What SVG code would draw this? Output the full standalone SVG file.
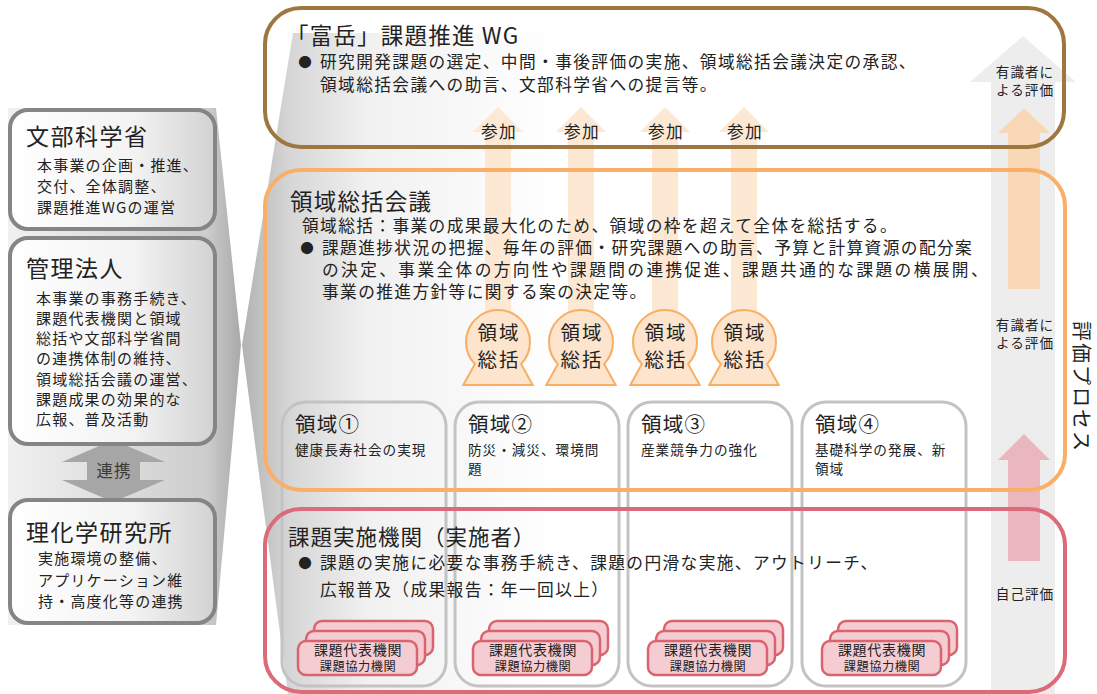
<svg xmlns="http://www.w3.org/2000/svg" width="1097" height="694" viewBox="0 0 1097 694">
<defs>
<linearGradient id="gL" gradientUnits="userSpaceOnUse" x1="8" y1="0" x2="241" y2="0">
<stop offset="0" stop-color="#f0f0f0"/><stop offset="0.85" stop-color="#cdcdcd"/><stop offset="1" stop-color="#a9a9a9"/>
</linearGradient>
<linearGradient id="gR" gradientUnits="userSpaceOnUse" x1="242" y1="0" x2="560" y2="0">
<stop offset="0" stop-color="#b2b2b2"/><stop offset="0.15" stop-color="#d6d6d6"/><stop offset="0.4" stop-color="#f1f1f1"/><stop offset="1" stop-color="#ffffff"/>
</linearGradient>
<linearGradient id="gBox" x1="0" y1="0" x2="1" y2="0">
<stop offset="0" stop-color="#ffffff"/><stop offset="0.6" stop-color="#f3f3f3"/><stop offset="1" stop-color="#d2d2d2"/>
</linearGradient>
<style>
.t{font-family:"Noto Sans CJK JP","Noto Sans",sans-serif;fill:#222}
.h1{font-size:22.5px;letter-spacing:1.2px}
.h2{font-size:21.5px;letter-spacing:1px}
.lt{font-size:23px;letter-spacing:1.5px}
.b{font-size:16.7px;letter-spacing:1.4px}
.lb{font-size:15px;letter-spacing:1.2px}
.rt{font-size:20.5px;letter-spacing:1.2px}
.rs{font-size:13.6px;letter-spacing:1px}
.ic{font-size:19.5px;letter-spacing:2px;text-anchor:middle}
.sk1{font-size:14px;letter-spacing:0.7px;text-anchor:middle}
.sk2{font-size:12.2px;letter-spacing:0.6px;text-anchor:middle}
.ev{font-size:13.6px;letter-spacing:1px;text-anchor:middle}
.bul{font-size:13.5px;text-anchor:middle}
.lbox{fill:url(#gBox);stroke:#858585;stroke-width:4}
.rbox{fill:none;stroke:#c3c3c3;stroke-width:3}
.sk{fill:#f4ccd2;stroke:#d9646f;stroke-width:2.5}
.fig{fill:#fce4cd;stroke:#f8ae64;stroke-width:4}
.fign{fill:#fce4cd;stroke:none}
.part{fill:#fde8d4}
</style>
</defs>

<g id="backdrop">
<polygon points="8,108 216,108 241,345 216,625 8,625" fill="url(#gL)"/>
<polygon points="293,33 1062,33 1062,694 288,694 242,345" fill="url(#gR)"/>
</g>

<g id="connectors">
<polygon points="991,694 991,82 970,82 1023,36 1076,82 1055,82 1055,694" fill="#ededed"/>
<polygon points="1008,289 1008,133 998,133 1024,108 1050,133 1040,133 1040,289" fill="#f8d8b6"/>
<polygon points="1008,561 1008,460 998,460 1024,434 1050,460 1040,460 1040,561" fill="#ebb7be"/>
<polygon class="part" points="485,330 485,132 473,132 498,107 523,132 511,132 511,330"/>
<polygon class="part" points="568,330 568,132 556,132 581,107 606,132 594,132 594,330"/>
<polygon class="part" points="652,330 652,132 640,132 665,107 690,132 678,132 678,330"/>
<polygon class="part" points="731,330 731,132 719,132 744,107 769,132 757,132 757,330"/>
<polygon points="113,440 165,462 140,462 140,480 165,480 113,502 62,480 87,480 87,462 62,462" fill="#a6a6a6"/>
</g>

<g id="ryoiki1"><rect class="rbox" x="282" y="402" width="164" height="284" rx="24"/>
<text class="t rt" x="295" y="432">領域①</text>
<text class="t rs" x="295" y="455">健康長寿社会の実現</text></g>
<g id="ryoiki2"><rect class="rbox" x="455" y="402" width="164" height="284" rx="24"/>
<text class="t rt" x="468" y="432">領域②</text>
<text class="t rs" x="468" y="455">防災・減災、環境問</text>
<text class="t rs" x="468" y="474">題</text></g>
<g id="ryoiki3"><rect class="rbox" x="628" y="402" width="164" height="284" rx="24"/>
<text class="t rt" x="641" y="432">領域③</text>
<text class="t rs" x="641" y="455">産業競争力の強化</text></g>
<g id="ryoiki4"><rect class="rbox" x="802" y="402" width="164" height="284" rx="24"/>
<text class="t rt" x="815" y="432">領域④</text>
<text class="t rs" x="815" y="455">基礎科学の発展、新</text>
<text class="t rs" x="815" y="474">領域</text></g>

<g id="wg">
<rect x="265" y="8" width="799" height="139" rx="36" fill="none" stroke="#9e7740" stroke-width="4"/>
<text class="t h1" x="286" y="44">「富岳」課題推進 WG</text>
<text class="t bul" x="305" y="67">●</text>
<text class="t b" x="320" y="68">研究開発課題の選定、中間・事後評価の実施、領域総括会議決定の承認、</text>
<text class="t b" x="320" y="91">領域総括会議への助言、文部科学省への提言等。</text>
<text class="t b" x="499" y="138" text-anchor="middle">参加</text>
<text class="t b" x="582" y="138" text-anchor="middle">参加</text>
<text class="t b" x="666" y="138" text-anchor="middle">参加</text>
<text class="t b" x="745" y="138" text-anchor="middle">参加</text>
</g>

<g id="kaigi">
<rect x="265" y="170" width="800" height="320" rx="36" fill="none" stroke="#f9af68" stroke-width="4"/>
<text class="t h1" x="290" y="210">領域総括会議</text>
<text class="t b" x="302" y="232">領域総括：事業の成果最大化のため、領域の枠を超えて全体を総括する。</text>
<text class="t bul" x="307" y="253">●</text>
<text class="t b" x="322" y="254">課題進捗状況の把握、毎年の評価・研究課題への助言、予算と計算資源の配分案</text>
<text class="t b" x="322" y="276" textLength="667">の決定、事業全体の方向性や課題間の連携促進、課題共通的な課題の横展開、</text>
<text class="t b" x="322" y="298">事業の推進方針等に関する案の決定等。</text>
</g>

<g id="jisshi">
<rect x="265" y="509" width="800" height="183" rx="36" fill="none" stroke="#dc6b79" stroke-width="4"/>
<text class="t h2" x="288" y="545">課題実施機関（実施者）</text>
<text class="t bul" x="305" y="568">●</text>
<text class="t b" x="320" y="569">課題の実施に必要な事務手続き、課題の円滑な実施、アウトリーチ、</text>
<text class="t b" x="320" y="596">広報普及（成果報告：年一回以上）</text>
</g>

<g id="sokatsu1">
<polygon class="fig" points="481,355 515,355 531,384 465,384"/><circle class="fig" cx="498" cy="342" r="31"/>
<polygon class="fign" points="481,355 515,355 531,384 465,384"/><circle class="fign" cx="498" cy="342" r="31"/>
<text class="t ic" x="499" y="340">領域</text><text class="t ic" x="499" y="367">総括</text></g>
<g id="sokatsu2">
<polygon class="fig" points="564,355 598,355 614,384 548,384"/><circle class="fig" cx="581" cy="342" r="31"/>
<polygon class="fign" points="564,355 598,355 614,384 548,384"/><circle class="fign" cx="581" cy="342" r="31"/>
<text class="t ic" x="582" y="340">領域</text><text class="t ic" x="582" y="367">総括</text></g>
<g id="sokatsu3">
<polygon class="fig" points="648,355 682,355 698,384 632,384"/><circle class="fig" cx="665" cy="342" r="31"/>
<polygon class="fign" points="648,355 682,355 698,384 632,384"/><circle class="fign" cx="665" cy="342" r="31"/>
<text class="t ic" x="666" y="340">領域</text><text class="t ic" x="666" y="367">総括</text></g>
<g id="sokatsu4">
<polygon class="fig" points="727,355 761,355 777,384 711,384"/><circle class="fig" cx="744" cy="342" r="31"/>
<polygon class="fign" points="727,355 761,355 777,384 711,384"/><circle class="fign" cx="744" cy="342" r="31"/>
<text class="t ic" x="745" y="340">領域</text><text class="t ic" x="745" y="367">総括</text></g>

<g id="stack1">
<rect class="sk" x="314" y="621" width="119" height="34" rx="8"/><rect class="sk" x="306" y="631" width="119" height="34" rx="8"/><rect class="sk" x="298" y="641" width="119" height="34" rx="8"/>
<text class="t sk1" x="358" y="654.5">課題代表機関</text><text class="t sk2" x="358" y="671">課題協力機関</text></g>
<g id="stack2">
<rect class="sk" x="489" y="621" width="119" height="34" rx="8"/><rect class="sk" x="481" y="631" width="119" height="34" rx="8"/><rect class="sk" x="473" y="641" width="119" height="34" rx="8"/>
<text class="t sk1" x="533" y="654.5">課題代表機関</text><text class="t sk2" x="533" y="671">課題協力機関</text></g>
<g id="stack3">
<rect class="sk" x="664" y="621" width="119" height="34" rx="8"/><rect class="sk" x="656" y="631" width="119" height="34" rx="8"/><rect class="sk" x="648" y="641" width="119" height="34" rx="8"/>
<text class="t sk1" x="708" y="654.5">課題代表機関</text><text class="t sk2" x="708" y="671">課題協力機関</text></g>
<g id="stack4">
<rect class="sk" x="838" y="621" width="119" height="34" rx="8"/><rect class="sk" x="830" y="631" width="119" height="34" rx="8"/><rect class="sk" x="822" y="641" width="119" height="34" rx="8"/>
<text class="t sk1" x="882" y="654.5">課題代表機関</text><text class="t sk2" x="882" y="671">課題協力機関</text></g>

<g id="monbu">
<rect class="lbox" x="10" y="110" width="205" height="119" rx="18"/>
<text class="t lt" x="26" y="145">文部科学省</text>
<text class="t lb" x="37" y="170.5">本事業の企画・推進、</text>
<text class="t lb" x="37" y="191.5">交付、全体調整、</text>
<text class="t lb" x="37" y="212.5">課題推進WGの運営</text>
</g>
<g id="kanri">
<rect class="lbox" x="10" y="238" width="205" height="206" rx="18"/>
<text class="t lt" x="26" y="277">管理法人</text>
<text class="t lb" x="36" y="303.5">本事業の事務手続き、</text>
<text class="t lb" x="36" y="323.8">課題代表機関と領域</text>
<text class="t lb" x="36" y="344.1">総括や文部科学省間</text>
<text class="t lb" x="36" y="364.4">の連携体制の維持、</text>
<text class="t lb" x="36" y="384.7">領域総括会議の運営、</text>
<text class="t lb" x="36" y="405">課題成果の効果的な</text>
<text class="t lb" x="36" y="425.3">広報、普及活動</text>
</g>
<text class="t" x="114" y="477" font-size="16.5" letter-spacing="1" text-anchor="middle" style="fill:#3a3a3a">連携</text>
<g id="riken">
<rect class="lbox" x="10" y="500" width="205" height="123" rx="18"/>
<text class="t lt" x="26" y="541">理化学研究所</text>
<text class="t lb" x="38" y="563.5">実施環境の整備、</text>
<text class="t lb" x="38" y="585.5">アプリケーション維</text>
<text class="t lb" x="38" y="606.5">持・高度化等の連携</text>
</g>

<g id="process">
<text class="t ev" x="1025" y="77">有識者に</text>
<text class="t ev" x="1025" y="95">よる評価</text>
<text class="t ev" x="1025" y="330">有識者に</text>
<text class="t ev" x="1025" y="348">よる評価</text>
<text class="t ev" x="1025" y="599">自己評価</text>
<text class="t" font-size="20" letter-spacing="2" text-anchor="middle" transform="translate(1074,387) rotate(90)">評価プロセス</text>
</g>
</svg>
